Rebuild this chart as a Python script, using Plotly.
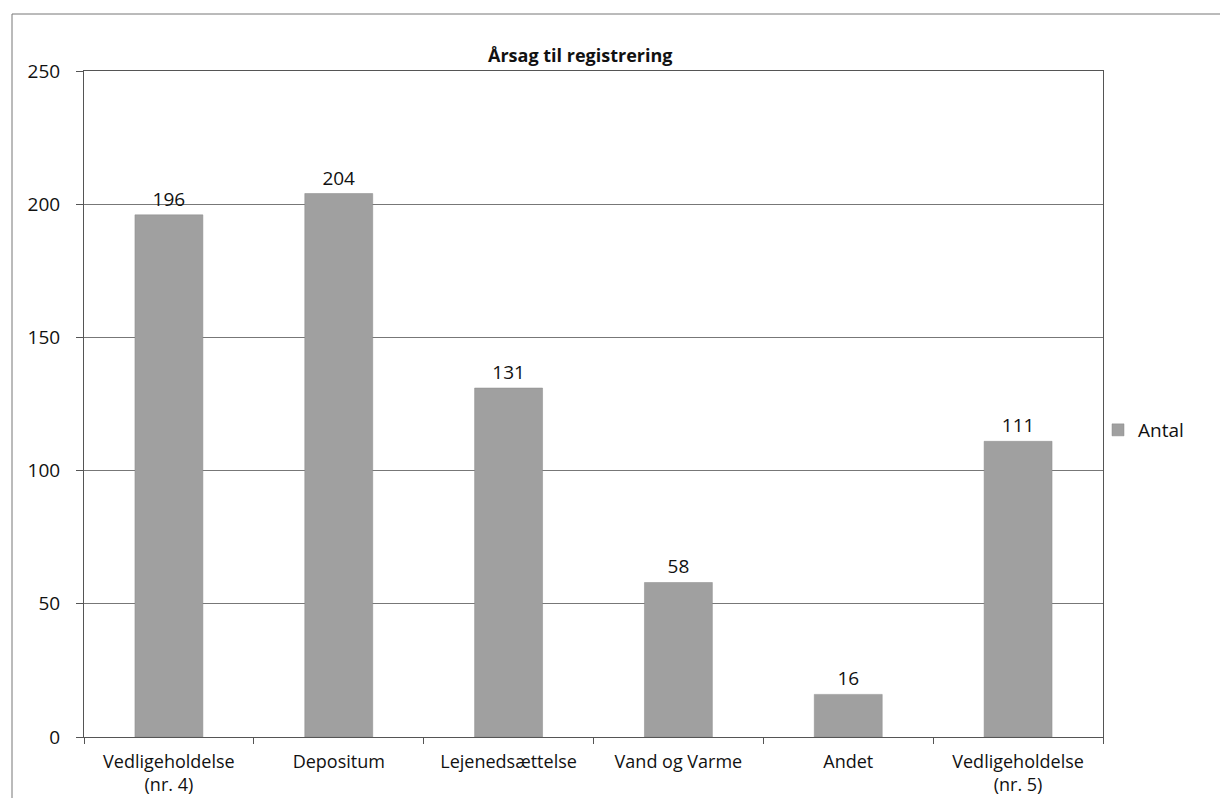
import plotly.graph_objects as go

categories = ["Vedligeholdelse<br>(nr. 4)", "Depositum", "Lejenedsættelse",
              "Vand og Varme", "Andet", "Vedligeholdelse<br>(nr. 5)"]
antal = [196, 204, 131, 58, 16, 111]
y_ticks = [0, 50, 100, 150, 200, 250]

W, H = 1220, 798
L, R, T, B = 84, 1103, 71, 737

def px(x):
    return (x - L) / (R - L)

def py(y):
    return (B - y) / (B - T)

FONT = "Open Sans, Noto Sans, DejaVu Sans, sans-serif"

fig = go.Figure()
fig.add_trace(go.Bar(
    x=categories, y=antal, name="Antal",
    marker=dict(color="#a0a0a0", line=dict(color="#8a8a8a", width=0.5)),
    text=[str(v) for v in antal], textposition="outside",
    textfont=dict(size=19, color="#111111", family=FONT),
    cliponaxis=False,
))

fig.update_layout(
    width=W, height=H,
    margin=dict(l=L, r=W - R, t=T, b=H - B),
    paper_bgcolor="white", plot_bgcolor="white",
    bargap=0.6,
    showlegend=True,
    legend=dict(x=px(1098), y=py(430), xanchor="left", yanchor="middle",
                font=dict(size=19, color="#111111", family=FONT),
                itemwidth=30, bgcolor="rgba(0,0,0,0)"),
    font=dict(family=FONT, color="#111111"),
    xaxis=dict(
        showline=True, linecolor="#555555", linewidth=1, mirror=True,
        ticks="outside", ticklen=6, tickcolor="#555555",
        tickson="boundaries", ticklabelstandoff=8, automargin=False,
        tickfont=dict(size=18, family=FONT, color="#111111"),
        showgrid=False,
    ),
    yaxis=dict(
        range=[0, 250], tickvals=y_ticks,
        showline=True, linecolor="#555555", linewidth=1, mirror=True,
        ticks="outside", ticklen=7, tickcolor="#555555",
        ticklabelstandoff=12, automargin=False,
        showgrid=True, gridcolor="#777777", gridwidth=1,
        tickfont=dict(size=19, family=FONT, color="#111111"),
        zeroline=False,
    ),
)

fig.add_annotation(
    text="<b>Årsag til registrering</b>", xref="paper", yref="paper",
    x=px(580), y=py(55), showarrow=False, xanchor="center", yanchor="middle",
    font=dict(size=18, family=FONT, color="#111111"),
)

# outer chart border (scanned frame)
fig.add_shape(type="rect", xref="paper", yref="paper",
              x0=px(12), x1=px(1230), y0=py(810), y1=py(14),
              line=dict(color="#777777", width=1), fillcolor="rgba(0,0,0,0)",
              layer="below")

fig.write_html("out.html")
